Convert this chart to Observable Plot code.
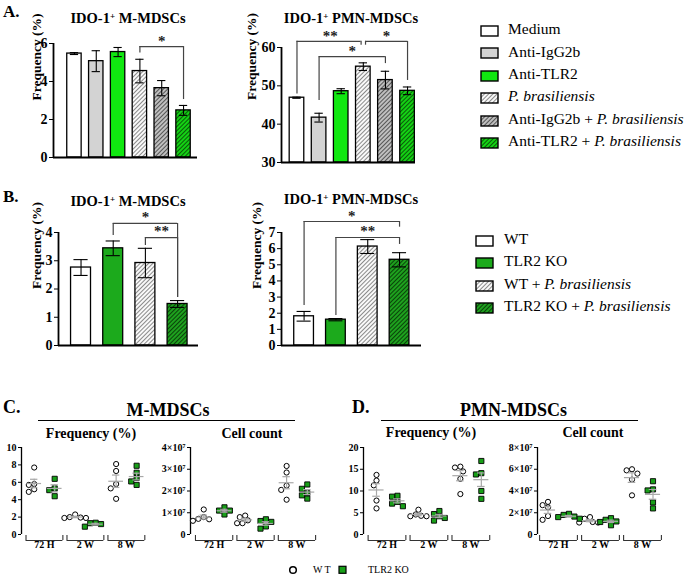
<!DOCTYPE html>
<html><head><meta charset="utf-8">
<script src="https://cdn.jsdelivr.net/npm/d3@7"></script>
<script src="https://cdn.jsdelivr.net/npm/@observablehq/plot@0.6"></script>
<style>
body{margin:0;background:#fff;}
#root{position:relative;width:685px;height:579px;overflow:hidden;font-family:"Liberation Serif","Times New Roman",serif;color:#000;background:#fff;}
.t{position:absolute;white-space:nowrap;line-height:1;}
.t sup{font-size:0.62em;vertical-align:0.5em;line-height:0;}
</style></head><body>
<svg width="0" height="0" style="position:absolute">
<defs>
<pattern id="hW" patternUnits="userSpaceOnUse" width="3" height="3" patternTransform="rotate(45)"><rect width="3" height="3" fill="#ffffff"/><line x1="1.5" y1="0" x2="1.5" y2="3" stroke="#8a8a8a" stroke-width="1.1"/></pattern>
<pattern id="hG" patternUnits="userSpaceOnUse" width="3" height="3" patternTransform="rotate(45)"><rect width="3" height="3" fill="#c4c4c4"/><line x1="1.5" y1="0" x2="1.5" y2="3" stroke="#555555" stroke-width="1.1"/></pattern>
<pattern id="hGA" patternUnits="userSpaceOnUse" width="3" height="3" patternTransform="rotate(45)"><rect width="3" height="3" fill="#14d814"/><line x1="1.5" y1="0" x2="1.5" y2="3" stroke="#0a5a0a" stroke-width="1.1"/></pattern>
<pattern id="hGB" patternUnits="userSpaceOnUse" width="3" height="3" patternTransform="rotate(45)"><rect width="3" height="3" fill="#1fa61f"/><line x1="1.5" y1="0" x2="1.5" y2="3" stroke="#0a420a" stroke-width="1.1"/></pattern>
</defs></svg>
<div id="root"></div>
<script>
// ---------------- DATA ----------------
const aCategories = ["Medium", "Anti-IgG2b", "Anti-TLR2", "P. brasiliensis", "Anti-IgG2b + P. brasiliensis", "Anti-TLR2 + P. brasiliensis"];
const aLegendHtml = ["Medium", "Anti-IgG2b", "Anti-TLR2", "<i>P. brasiliensis</i>", "Anti-IgG2b + <i>P. brasiliensis</i>", "Anti-TLR2 + <i>P. brasiliensis</i>"];
const aFills = ["#ffffff", "#d3d3d3", "#10e810", "url(#hW)", "url(#hG)", "url(#hGA)"];
const aMMean = [5.47, 5.07, 5.55, 4.55, 3.65, 2.48];
const aMErr  = [0.05, 0.55, 0.24, 0.62, 0.40, 0.26];
const aPMean = [46.9, 41.7, 48.6, 55.0, 51.5, 48.7];
const aPErr  = [0.15, 1.15, 0.65, 1.0, 2.3, 1.0];
const aMBrackets = [{x1: 3, x2: 5, y: 5.84, yL: 5.5, yR: 3.05, label: "*", lx: 4, ly: 6.26}];
const aPBrackets = [
  {x1: 0, x2: 2.9, y: 61.6, yL: 47.9, yR: 60.6, label: "**", lx: 1.5, ly: 63.7},
  {x1: 3.1, x2: 5, y: 61.6, yL: 60.6, yR: 51.4, label: "*", lx: 4.05, ly: 63.7},
  {x1: 1, x2: 4, y: 57.6, yL: 46.2, yR: 55.8, label: "*", lx: 2.5, ly: 59.7}
];

const bCategories = ["WT", "TLR2 KO", "WT + P. brasiliensis", "TLR2 KO + P. brasiliensis"];
const bLegendHtml = ["WT", "TLR2 KO", "WT + <i>P. brasiliensis</i>", "TLR2 KO + <i>P. brasiliensis</i>"];
const bFills = ["#ffffff", "#1caa1c", "url(#hW)", "url(#hGB)"];
const bMMean = [2.76, 3.44, 2.92, 1.47];
const bMErr  = [0.28, 0.26, 0.52, 0.12];
const bPMean = [1.81, 1.60, 6.13, 5.31];
const bPErr  = [0.30, 0.07, 0.43, 0.44];
const bMBrackets = [
  {x1: 1, x2: 3, y: 4.32, yL: 3.89, yR: 1.70, label: "*", lx: 2, ly: 4.64},
  {x1: 2, x2: 3, y: 3.82, yL: 3.54, yR: 1.70, label: "**", lx: 2.5, ly: 4.14}
];
const bPBrackets = [
  {x1: 0, x2: 3, y: 7.68, yL: 2.48, yR: 7.33, label: "*", lx: 1.5, ly: 8.18},
  {x1: 1, x2: 3, y: 6.69, yL: 1.86, yR: 6.26, label: "**", lx: 2, ly: 7.25}
];

const timeGroups = ["72 H", "2 W", "8 W"];
const cFreqWT  = [[7.7, 5.8, 5.7, 5.2, 4.9], [2.3, 2.0, 1.95, 1.9, 1.9], [8.1, 7.3, 5.8, 5.3, 4.1]];
const cFreqKO  = [[6.4, 5.3, 5.1, 4.4], [1.35, 1.3, 1.2, 0.9], [7.9, 7.1, 6.5, 6.1, 5.7]];
const cCountWT = [[1.15e7, 0.8e7, 0.72e7, 0.7e7, 0.63e7], [0.87e7, 0.8e7, 0.65e7, 0.52e7, 0.52e7], [3.15e7, 2.85e7, 2.25e7, 2.05e7, 1.6e7]];
const cCountKO = [[1.25e7, 1.1e7, 1.1e7, 0.92e7], [0.7e7, 0.62e7, 0.58e7, 0.37e7, 0.27e7], [2.3e7, 2.1e7, 1.9e7, 1.8e7, 1.65e7]];
const dFreqWT  = [[13.7, 12.4, 11.3, 7.8, 6.0], [5.7, 4.6, 4.3, 4.2, 4.2], [15.6, 15.4, 14.5, 12.8, 9.3]];
const dFreqKO  = [[8.9, 8.7, 7.5, 7.1, 6.5], [5.4, 4.7, 4.2, 3.8, 3.2], [16.9, 14.1, 13.8, 10.0, 8.2]];
const dCountWT = [[3.0e7, 2.7e7, 2.5e7, 1.7e7, 1.35e7], [1.6e7, 1.45e7, 1.15e7, 1.1e7, 1.1e7], [6.0e7, 5.9e7, 5.6e7, 5.05e7, 3.6e7]];
const dCountKO = [[1.9e7, 1.8e7, 1.65e7, 1.6e7, 1.45e7], [1.5e7, 1.35e7, 1.2e7, 1.15e7, 0.85e7], [4.9e7, 4.15e7, 4.05e7, 2.95e7, 2.4e7]];
const koGreen = "#189f18";

// ---------------- HELPERS ----------------
const FONT = "Liberation Serif, Times New Roman, serif";
const root = document.getElementById("root");
function place(node, left, top, width, height) {
  const w = document.createElement("div");
  w.style.cssText = `position:absolute;left:${left}px;top:${top}px;width:${width}px;height:${height}px;`;
  w.append(node); root.append(w);
}
function label(html, x, y, size, {bold = true, anchor = "middle", spacing = 0} = {}) {
  const d = document.createElement("div");
  d.className = "t"; d.innerHTML = html;
  d.style.fontSize = size + "px";
  d.style.fontWeight = bold ? "bold" : "normal";
  d.style.left = x + "px"; d.style.top = (y - size / 2) + "px";
  if (spacing) d.style.letterSpacing = spacing + "px";
  if (anchor === "middle") d.style.transform = "translateX(-50%)";
  if (anchor === "end") d.style.transform = "translateX(-100%)";
  root.append(d);
}

function barChart(cfg) {
  const {means, errs, fills, yDomain, yTicks, brackets, xDomain, barHalf, capHalf, box, m, labelDx, labelDy = 0} = cfg;
  const data = means.map((v, i) => ({i, v, e: errs[i]}));
  const y0 = yDomain[0];
  const marks = [];
  data.forEach((d, i) => marks.push(Plot.rect([d], {x1: q => q.i - barHalf, x2: q => q.i + barHalf, y1: y0, y2: "v", fill: fills[i], stroke: "#000", strokeWidth: 1.3})));
  marks.push(
    Plot.ruleX(data, {x: "i", y1: d => d.v - d.e, y2: d => d.v + d.e, stroke: "#000", strokeWidth: 1.1}),
    Plot.ruleY(data, {y: d => d.v + d.e, x1: d => d.i - capHalf, x2: d => d.i + capHalf, stroke: "#000", strokeWidth: 1.1}),
    Plot.ruleY(data, {y: d => d.v - d.e, x1: d => d.i - capHalf, x2: d => d.i + capHalf, stroke: "#000", strokeWidth: 1.1}),
    Plot.ruleY([y0], {stroke: "#000", strokeWidth: 1.8}),
    Plot.ruleX([xDomain[0]], {y1: yDomain[0], y2: yDomain[1], stroke: "#000", strokeWidth: 1.8}),
    Plot.ruleY(brackets, {y: "y", x1: "x1", x2: "x2", stroke: "#444", strokeWidth: 1.2}),
    Plot.ruleX(brackets, {x: "x1", y1: "yL", y2: "y", stroke: "#444", strokeWidth: 1.2}),
    Plot.ruleX(brackets, {x: "x2", y1: "yR", y2: "y", stroke: "#444", strokeWidth: 1.2}),
    Plot.text(brackets, {x: "lx", y: "ly", text: "label", fontSize: 15, fontWeight: "bold", fill: "#222", dy: 3}),
    Plot.text(["Frequency (%)"], {frameAnchor: "left", dx: labelDx, dy: labelDy, rotate: -90, fontSize: 13.5, fontWeight: "bold", lineAnchor: "middle"})
  );
  const p = Plot.plot({
    width: box[2], height: box[3],
    marginLeft: m[0], marginRight: m[1], marginTop: m[2], marginBottom: m[3],
    x: {domain: xDomain, axis: null},
    y: {domain: yDomain, ticks: yTicks, tickFormat: d => String(d), tickSize: 4, tickPadding: 2, label: null},
    style: {fontFamily: FONT, fontSize: "14px", fontWeight: "bold", background: "transparent", overflow: "visible", color: "#000"},
    marks
  });
  place(p, box[0], box[1], box[2], box[3]);
}

function swarm(vals, pxPerY, step) {
  const order = vals.map((v, i) => ({v, i})).sort((a, b) => b.v - a.v);
  const placed = []; const off = new Array(vals.length).fill(0);
  for (const p of order) {
    for (const k of [0, -0.5, 0.5, -1, 1, -1.5, 1.5, -2, 2]) {
      const dx = k * step;
      if (placed.every(q => Math.hypot(dx - q.dx, (p.v - q.v) * pxPerY) >= step * 0.95)) {
        off[p.i] = dx; placed.push({v: p.v, dx}); break;
      }
    }
  }
  return off;
}

function scatter(cfg) {
  const {wt, ko, yDomain, yTicks, fmt, xDomain, box, m} = cfg;
  const innerW = box[2] - m[0] - m[1], innerH = box[3] - m[2] - m[3];
  const pxX = innerW / (xDomain[1] - xDomain[0]);
  const pxY = innerH / (yDomain[1] - yDomain[0]);
  const pts = [], stats = [];
  timeGroups.forEach((g, gi) => {
    [[wt[gi], -0.25, "WT"], [ko[gi], 0.25, "KO"]].forEach(([vals, side, geno]) => {
      const offs = swarm(vals, pxY, 5.4);
      vals.forEach((v, j) => pts.push({x: gi + side + offs[j] / pxX, y: v, geno}));
      const mean = d3.mean(vals), sem = d3.deviation(vals) / Math.sqrt(vals.length);
      stats.push({c: gi + side, mean, sem});
    });
  });
  const groups = timeGroups.map((name, gi) => ({name, gi}));
  const u = px => px / pxY;
  const p = Plot.plot({
    width: box[2], height: box[3],
    marginLeft: m[0], marginRight: m[1], marginTop: m[2], marginBottom: m[3],
    x: {domain: xDomain, axis: null},
    y: {domain: yDomain, ticks: yTicks, tickFormat: fmt, tickSize: 3, tickPadding: 2, label: null},
    style: {fontFamily: FONT, fontSize: "10px", fontWeight: "bold", background: "transparent", overflow: "visible", color: "#000"},
    marks: [
      Plot.ruleX([xDomain[0]], {y1: yDomain[0], y2: yDomain[1], stroke: "#000", strokeWidth: 1.3}),
      Plot.dot(pts.filter(d => d.geno === "WT"), {x: "x", y: "y", r: 2.6, fill: "#fff", stroke: "#000", strokeWidth: 1}),
      Plot.dot(pts.filter(d => d.geno === "KO"), {x: "x", y: "y", symbol: "square", r: 2.9, fill: koGreen, stroke: "#000", strokeWidth: 0.9}),
      Plot.ruleY(stats, {y: "mean", x1: d => d.c - 0.18, x2: d => d.c + 0.18, stroke: "#a8a8a8", strokeWidth: 1.2}),
      Plot.ruleX(stats, {x: "c", y1: d => d.mean - d.sem, y2: d => d.mean + d.sem, stroke: "#a8a8a8", strokeWidth: 1.2}),
      Plot.ruleY(stats, {y: d => d.mean + d.sem, x1: d => d.c - 0.09, x2: d => d.c + 0.09, stroke: "#a8a8a8", strokeWidth: 1.2}),
      Plot.ruleY(stats, {y: d => d.mean - d.sem, x1: d => d.c - 0.09, x2: d => d.c + 0.09, stroke: "#a8a8a8", strokeWidth: 1.2}),
      Plot.ruleY(groups, {y: yDomain[0], x1: d => d.gi - 0.45, x2: d => d.gi + 0.45, dy: 6, stroke: "#333", strokeWidth: 1.1}),
      Plot.ruleX(groups, {x: d => d.gi - 0.45, y1: yDomain[0], y2: yDomain[0] + u(5), dy: 6, stroke: "#333", strokeWidth: 1.1}),
      Plot.ruleX(groups, {x: d => d.gi + 0.45, y1: yDomain[0], y2: yDomain[0] + u(5), dy: 6, stroke: "#333", strokeWidth: 1.1}),
      Plot.text(groups, {x: "gi", text: "name", frameAnchor: "bottom", dy: 13, fontSize: 10, fontWeight: "bold"})
    ]
  });
  place(p, box[0], box[1], box[2], box[3]);
}
const countFmt = d => d === 0 ? "0" : `${d / 1e7}×10⁷`;

// ---------------- PANEL A ----------------
label("A.", 3, 11, 17, {anchor: "start"});
label("IDO-1<sup>+</sup> M-MDSCs", 128, 18.5, 14.5);
label("IDO-1<sup>+</sup> PMN-MDSCs", 351, 18.5, 14.5);
barChart({means: aMMean, errs: aMErr, fills: aFills, yDomain: [0, 6], yTicks: [0, 2, 4, 6], brackets: aMBrackets,
  xDomain: [-0.96, 5.64], barHalf: 0.33, capHalf: 0.19, box: [0, 0, 205, 170], m: [53, 8, 43, 13], labelDx: -17});
barChart({means: aPMean, errs: aPErr, fills: aFills, yDomain: [30, 60], yTicks: [30, 40, 50, 60], brackets: aPBrackets,
  xDomain: [-0.70, 5.36], barHalf: 0.33, capHalf: 0.19, box: [230, 0, 200, 175], m: [51, 15, 47, 13], labelDx: -30, labelDy: -5});
aLegendHtml.forEach((h, i) => {
  const y = 29 + i * 22.4;
  const s = document.createElementNS("http://www.w3.org/2000/svg", "svg");
  s.setAttribute("width", 19); s.setAttribute("height", 12);
  s.innerHTML = `<rect x="1" y="1" width="17" height="10" fill="${aFills[i]}" stroke="#000" stroke-width="1.4"/>`;
  place(s, 480, y - 6, 19, 12);
  label(h, 508, y, 15.5, {bold: false, anchor: "start"});
});

// ---------------- PANEL B ----------------
label("B.", 3, 196, 17, {anchor: "start"});
label("IDO-1<sup>+</sup> M-MDSCs", 128, 201, 14.5);
label("IDO-1<sup>+</sup> PMN-MDSCs", 351, 199.5, 14.5);
barChart({means: bMMean, errs: bMErr, fills: bFills, yDomain: [0, 4], yTicks: [0, 1, 2, 3, 4], brackets: bMBrackets,
  xDomain: [-0.70, 3.65], barHalf: 0.31, capHalf: 0.22, box: [0, 185, 210, 170], m: [58, 12, 47, 10], labelDx: -21.5});
barChart({means: bPMean, errs: bPErr, fills: bFills, yDomain: [0, 7], yTicks: [0, 1, 2, 3, 4, 5, 6, 7], brackets: bPBrackets,
  xDomain: [-0.71, 3.69], barHalf: 0.31, capHalf: 0.22, box: [230, 185, 200, 170], m: [51, 9, 47, 10], labelDx: -25});
bLegendHtml.forEach((h, i) => {
  const y = 238.5 + i * 22.5;
  const s = document.createElementNS("http://www.w3.org/2000/svg", "svg");
  s.setAttribute("width", 19); s.setAttribute("height", 12);
  s.innerHTML = `<rect x="1" y="1" width="17" height="10" fill="${bFills[i]}" stroke="#000" stroke-width="1.4"/>`;
  place(s, 475, y - 6, 19, 12);
  label(h, 504, y, 15.5, {bold: false, anchor: "start"});
});

// ---------------- PANELS C & D ----------------
label("C.", 3, 407, 18, {anchor: "start"});
label("M-MDSCs", 168, 409.5, 18);
label("Frequency (%)", 91, 433.5, 14);
label("Cell count", 252, 433.5, 14);
label("D.", 352, 407, 18, {anchor: "start"});
label("PMN-MDSCs", 513.5, 409.5, 18);
label("Frequency (%)", 431, 432.5, 14);
label("Cell count", 593, 432.5, 14);
[[38, 295], [381, 638]].forEach(([a, b]) => {
  const d = document.createElement("div");
  d.style.cssText = `position:absolute;left:${a}px;top:420.3px;width:${b - a}px;height:0;border-top:1.6px solid #000;`;
  root.append(d);
});

scatter({wt: cFreqWT, ko: cFreqKO, yDomain: [0, 10], yTicks: [0, 2, 4, 6, 8, 10], fmt: d => String(d),
  xDomain: [-0.56, 2.54], box: [0, 430, 160, 125], m: [21, 12, 17, 21]});
scatter({wt: cCountWT, ko: cCountKO, yDomain: [0, 4e7], yTicks: [0, 1e7, 2e7, 3e7, 4e7], fmt: countFmt,
  xDomain: [-0.57, 2.52], box: [160, 430, 170, 125], m: [30, 12, 17, 21]});
scatter({wt: dFreqWT, ko: dFreqKO, yDomain: [0, 20], yTicks: [0, 5, 10, 15, 20], fmt: d => String(d),
  xDomain: [-0.56, 2.54], box: [340, 430, 165, 125], m: [23, 12, 17, 21]});
scatter({wt: dCountWT, ko: dCountKO, yDomain: [0, 8e7], yTicks: [0, 2e7, 4e7, 6e7, 8e7], fmt: countFmt,
  xDomain: [-0.5, 2.5], box: [505, 430, 170, 125], m: [32, 12, 17, 21]});

// bottom legend
(() => {
  const s = document.createElementNS("http://www.w3.org/2000/svg", "svg");
  s.setAttribute("width", 70); s.setAttribute("height", 14);
  s.innerHTML = `<circle cx="7" cy="7" r="3.3" fill="#fff" stroke="#000" stroke-width="1.5"/><rect x="53" y="3.3" width="7" height="7" fill="${koGreen}" stroke="#000" stroke-width="1.2"/>`;
  place(s, 286, 563, 70, 14);
  label("WT", 313, 570, 10, {bold: false, anchor: "start", spacing: 2});
  label("TLR2 KO", 368, 570, 10, {bold: false, anchor: "start"});
})();
</script>
</body></html>
